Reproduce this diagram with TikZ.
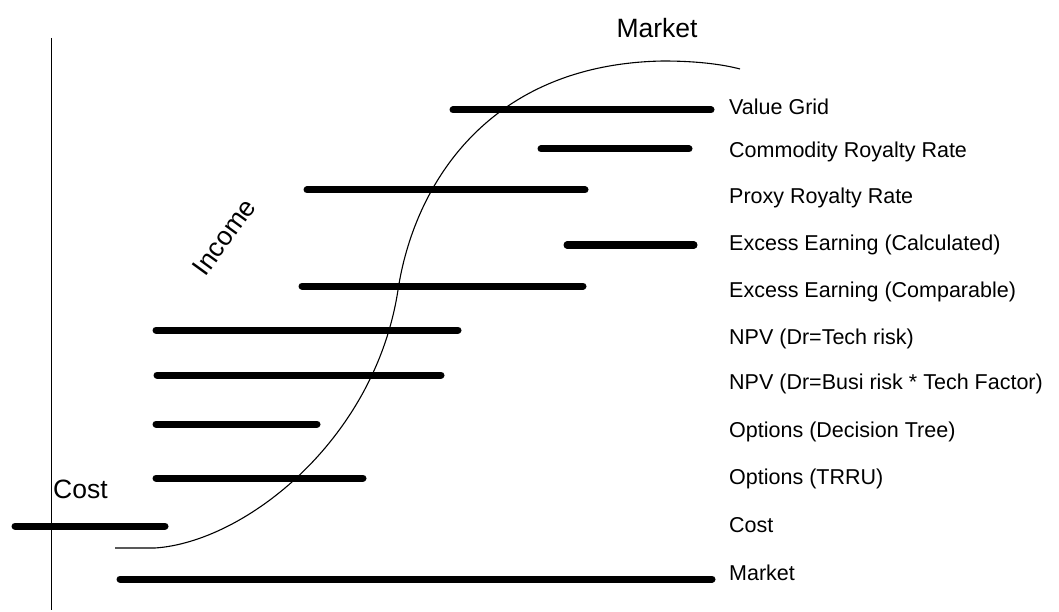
\documentclass[tikz,border=0pt]{standalone}
\usepackage{fontspec}
\setmainfont{Liberation Sans}
\begin{document}
\begin{tikzpicture}[x=1pt,y=-1pt,
  bar/.style={line width=7pt,line cap=round},
  lbl/.style={anchor=west,inner sep=0pt,font=\fontsize{21.5}{24}\selectfont},
  head/.style={inner sep=0pt,font=\fontsize{26.5}{30}\selectfont}]
\useasboundingbox[fill=white] (0,0) rectangle (1059,612);

% vertical axis
\draw[line width=1.5pt] (51.5,38) -- (51.5,610);

% S-shaped value curve
\draw[line width=1.1pt] (115,548) -- (155,548)
  .. controls (245,542) and (375,440) .. (398,290)
  .. controls (414,185) and (488,64) .. (663,61)
  .. controls (700,61) and (725,65) .. (740,69);

% method ranges
\draw[bar] (453,110) -- (711,110);
\draw[bar] (541,149) -- (689,149);
\draw[bar] (307,190) -- (585,190);
\draw[bar] (567,245) -- (694,245);
\draw[bar] (302,286) -- (583,286);
\draw[bar] (156,330) -- (458,330);
\draw[bar] (157,375) -- (441,375);
\draw[bar] (156,424) -- (317,424);
\draw[bar] (156,478) -- (363,478);
\draw[bar] (15,526) -- (165,526);
\draw[bar] (120,579) -- (712,579);

% method labels
\node[lbl] (lvg)  at (729,107) {Value Grid};
\node[lbl] (lcrr) at (729,152) {Commodity Royalty Rate};
\node[lbl] (lprr) at (729,198) {Proxy Royalty Rate};
\node[lbl] (leec) at (729,245) {Excess Earning (Calculated)};
\node[lbl] (leep) at (729,292) {Excess Earning (Comparable)};
\node[lbl] (lnt)  at (729,339) {NPV (Dr=Tech risk)};
\node[lbl] (lnb)  at (729,384) {NPV (Dr=Busi risk * Tech Factor)};
\node[lbl] (lodt) at (729,432) {Options (Decision Tree)};
\node[lbl] (lotr) at (729,479) {Options (TRRU)};
\node[lbl] (lco)  at (729,525) {Cost};
\node[lbl] (lmk)  at (729,573) {Market};

% approach headings
\node[head] (hmarket) at (657,28) {Market};
\node[head,anchor=west] (hcost) at (53,489) {Cost};
\node[head,rotate=54] (hincome) at (224,237) {Income};
\end{tikzpicture}
\end{document}
